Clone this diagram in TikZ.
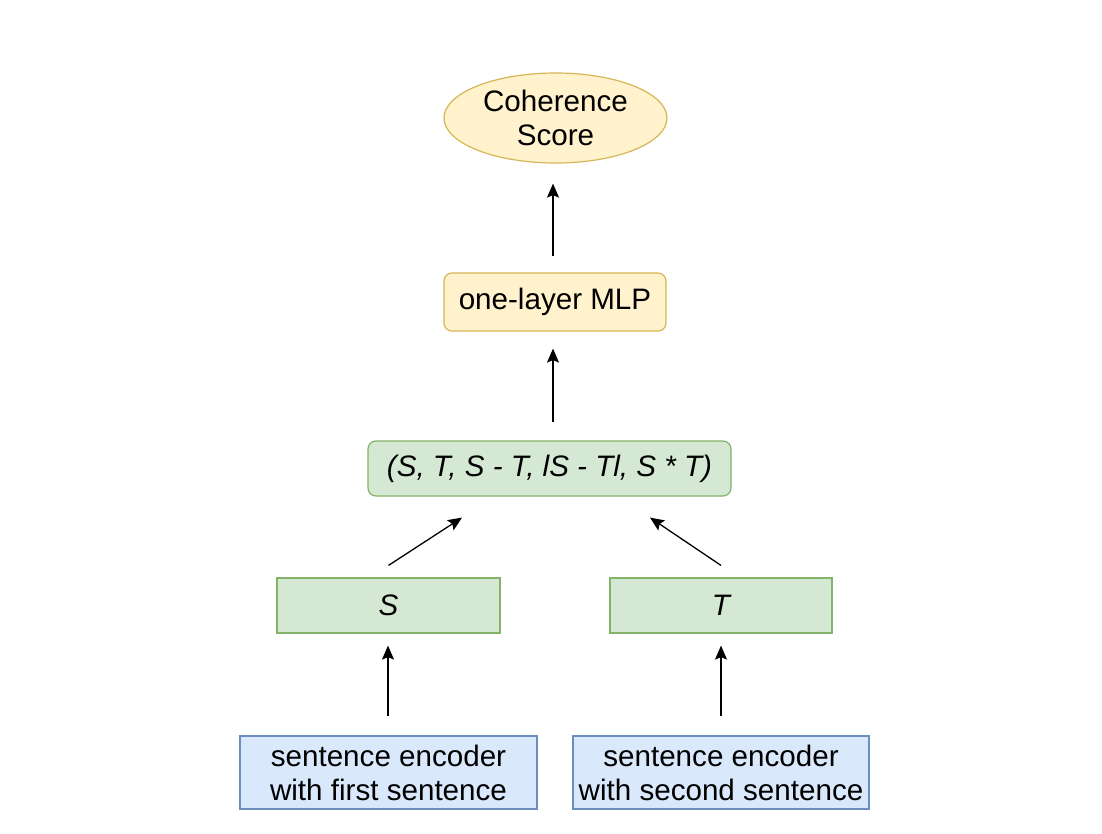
\documentclass[tikz,border=0pt]{standalone}
\usepackage{fontspec}
\setmainfont{Liberation Sans}
\usetikzlibrary{shapes.geometric,arrows.meta}
\definecolor{yfill}{HTML}{FFF2CC}
\definecolor{ydraw}{HTML}{D6B656}
\definecolor{gfill}{HTML}{D5E8D4}
\definecolor{gdraw}{HTML}{82B366}
\definecolor{bfill}{HTML}{DAE8FC}
\definecolor{bdraw}{HTML}{6C8EBF}
\begin{document}
\begin{tikzpicture}[x=1pt,y=-1pt,
  every node/.style={font=\fontsize{29.6}{34}\selectfont, inner sep=0pt, align=center},
  ybox/.style={draw=ydraw, fill=yfill, line width=1.2pt},
  gbox/.style={draw=gdraw, fill=gfill, line width=1.2pt},
  bbox/.style={draw=bdraw, fill=bfill, line width=1.2pt},
  arr/.style={line width=1.3pt, -{Stealth[length=14pt,width=12pt,inset=2.5pt]}}
]
\useasboundingbox[fill=white] (0,0) rectangle (1102,834);
\node[ybox, ellipse, minimum width=223pt, minimum height=90pt] (score) at (555.5,118) {Coherence\\Score};
\node[ybox, rectangle, rounded corners=8pt, minimum width=222pt, minimum height=58pt] (mlp) at (555,302) {one-layer MLP};
\node[gbox, rectangle, rounded corners=8pt, minimum width=363pt, minimum height=55pt] (tuple) at (549.5,468.5) {\itshape (S, T, S - T, lS - Tl, S * T)};
\node[gbox, rectangle, minimum width=223pt, minimum height=55pt] (S) at (388.5,605.5) {\itshape S};
\node[gbox, rectangle, minimum width=222pt, minimum height=55pt] (T) at (721,605.5) {\itshape T};
\node[bbox, rectangle, minimum width=297pt, minimum height=73pt] (enc1) at (388.5,772.5) {sentence encoder\\with first sentence};
\node[bbox, rectangle, minimum width=296pt, minimum height=73pt] (enc2) at (721,772.5) {sentence encoder\\with second sentence};

\draw[arr] ([xshift=-2pt,yshift=16pt]mlp.north) -- ([xshift=-2.5pt,yshift=-20pt]score.south);
\draw[arr] ([xshift=3.5pt,yshift=18pt]tuple.north) -- ([xshift=-2pt,yshift=-17pt]mlp.south);
\draw[arr] ([yshift=12pt]S.north) -- ([xshift=-87.5pt,yshift=-21pt]tuple.south);
\draw[arr] ([yshift=12pt]T.north) -- ([xshift=100.5pt,yshift=-21pt]tuple.south);
\draw[arr] ([xshift=-0.5pt,yshift=19pt]enc1.north) -- ([xshift=-0.5pt,yshift=-12pt]S.south);
\draw[arr] ([yshift=19pt]enc2.north) -- ([yshift=-12pt]T.south);
\end{tikzpicture}
\end{document}
